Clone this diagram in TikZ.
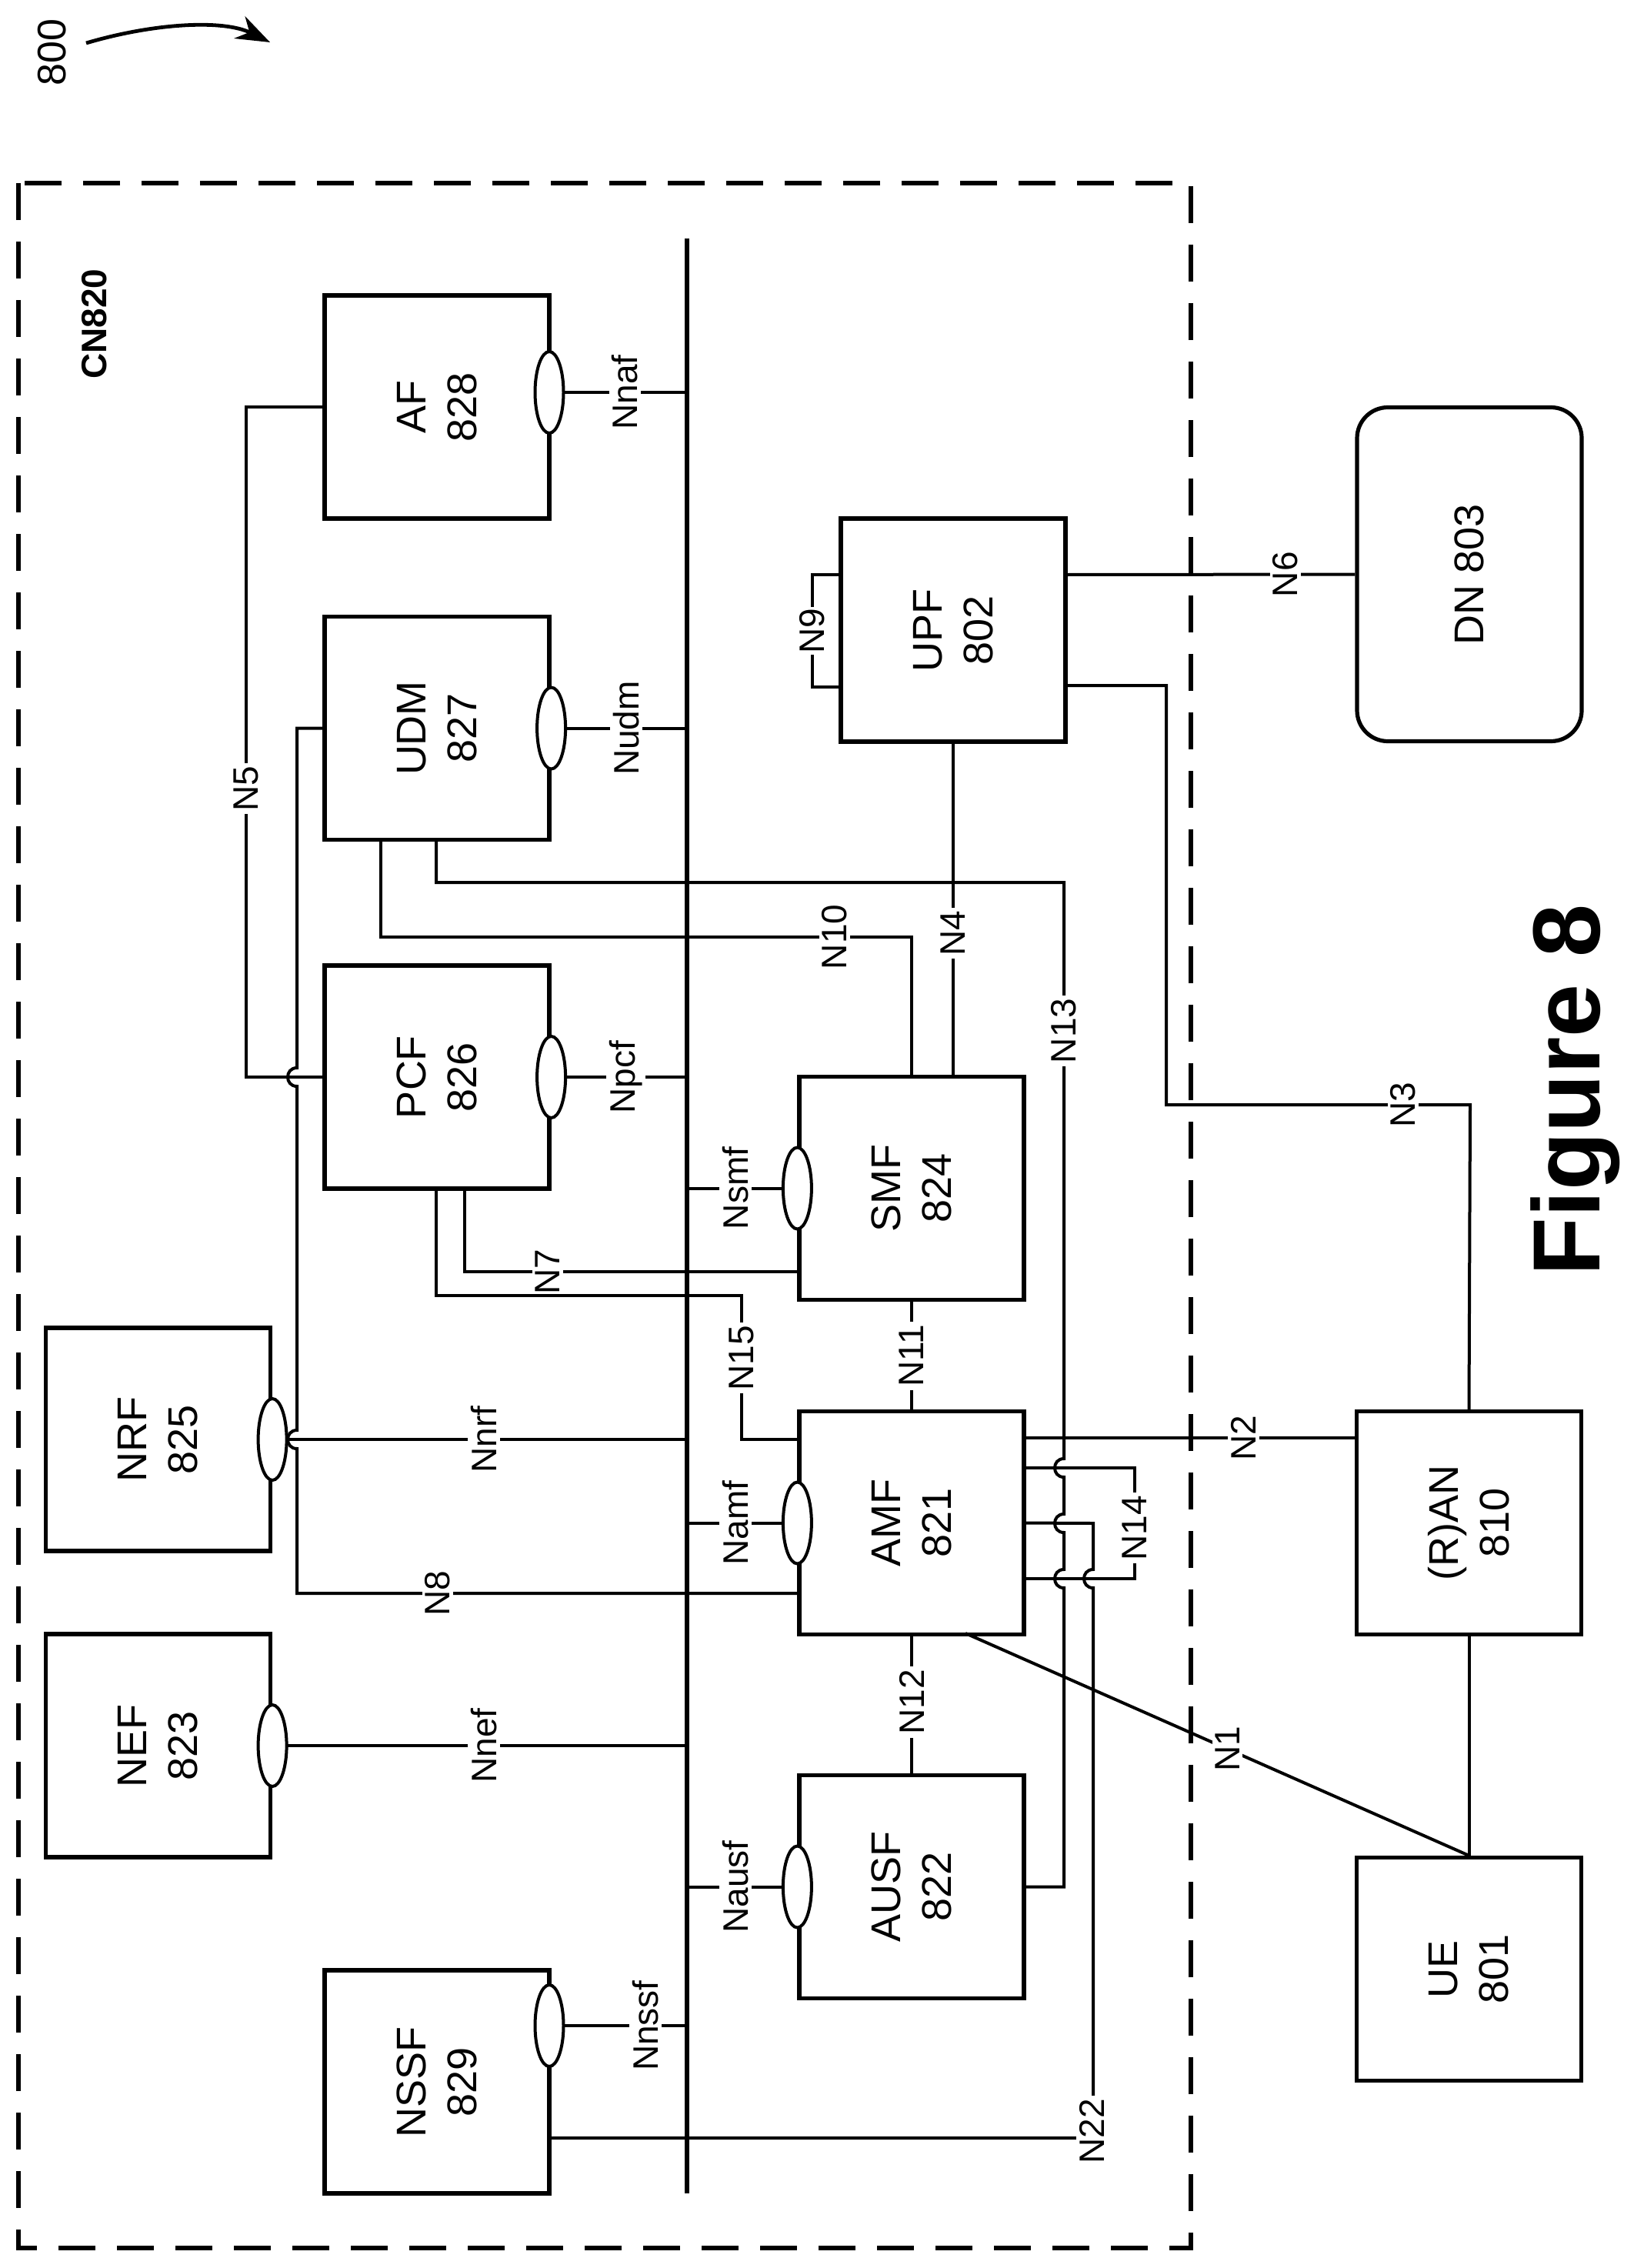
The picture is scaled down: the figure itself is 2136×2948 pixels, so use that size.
\documentclass[tikz,border=0pt]{standalone}
\usepackage{fontspec}
\setmainfont{Liberation Sans}
\usetikzlibrary{shapes.geometric,arrows.meta}
\newcommand\hp[2]{-- (#1,#2-12) .. controls (#1-16,#2-12) and (#1-16,#2+12) .. (#1,#2+12)}
\begin{document}
\begin{tikzpicture}[x=0.5pt,y=-0.5pt,
  box/.style={draw,line width=2.6pt,minimum width=146pt,minimum height=145pt,inner sep=0},
  btxt/.style={rotate=90,align=center,font=\fontsize{27}{33}\selectfont},
  ov/.style={draw,ellipse,line width=2pt,fill=white,minimum width=18.5pt,minimum height=53pt,inner sep=0},
  cn/.style={line width=2pt},
  lbl/.style={rotate=90,fill=white,inner sep=2pt,font=\fontsize{23}{23}\selectfont}]
\useasboundingbox (0,0) rectangle (2136,2948);
% title
\node[rotate=90,font=\fontsize{26}{26}\selectfont] (t800) at (68,68) {800};
\coordinate (a1) at (112,56); \coordinate (a2) at (351,55);
\draw[line width=2.4pt,-{Stealth[length=22pt,width=16pt]}] (a1) .. controls (200,30) and (290,25) .. (a2);
\draw[line width=3pt,dash pattern=on 24pt off 14pt] (24,238) rectangle (1548,2922);
\node[rotate=90,font=\bfseries\fontsize{23}{23}\selectfont] (cn) at (123,421) {CN820};
\node[rotate=90,font=\bfseries\fontsize{62}{62}\selectfont] (fig) at (2048,1417) {Figure 8};
% bus
\coordinate (bt) at (893,310); \coordinate (bb) at (893,2851);
\draw[line width=3pt] (bt) -- (bb);
% boxes
\node[box] (AF) at (568,529) {}; \node[btxt] at (AF) {AF\\828};
\node[box] (UDM) at (568,946.5) {}; \node[btxt] at (UDM) {UDM\\827};
\node[box] (PCF) at (568,1400) {}; \node[btxt] at (PCF) {PCF\\826};
\node[box] (NRF) at (205.5,1871) {}; \node[btxt] at (NRF) {NRF\\825};
\node[box] (NEF) at (205.5,2269) {}; \node[btxt] at (NEF) {NEF\\823};
\node[box] (NSSF) at (568,2706) {}; \node[btxt] at (NSSF) {NSSF\\829};
\node[box] (UPF) at (1239,819) {}; \node[btxt] at (UPF) {UPF\\802};
\node[box] (SMF) at (1185,1544.5) {}; \node[btxt] at (SMF) {SMF\\824};
\node[box] (AMF) at (1185,1979.5) {}; \node[btxt] at (AMF) {AMF\\821};
\node[box] (AUSF) at (1185,2452.5) {}; \node[btxt] at (AUSF) {AUSF\\822};
\node[box] (RAN) at (1909.5,1979.5) {}; \node[btxt] at (RAN) {(R)AN\\810};
\node[box] (UE) at (1909.5,2559.5) {}; \node[btxt] at (UE) {UE\\801};
\node[box,rounded corners=20pt,minimum height=217pt] (DN) at (1910,746.5) {};
\node[btxt] at (DN) {DN 803};
% service interfaces
\draw[cn] (714,510) -- (893,510) node[lbl,pos=0.55] {Nnaf};
\node[ov] (oAF) at (714,510) {};
\draw[cn] (UDM.east) -- (893,946.5) node[lbl,pos=0.55] {Nudm};
\node[ov] (oUDM) at (UDM.east) {};
\draw[cn] (PCF.east) -- (893,1400) node[lbl,pos=0.55] {Npcf};
\node[ov] (oPCF) at (PCF.east) {};
\draw[cn] (893,1544.5) -- (SMF.west) node[lbl,pos=0.44] {Nsmf};
\node[ov] (oSMF) at (SMF.west) {};
\draw[cn] (893,1979.5) -- (AMF.west) node[lbl,pos=0.44] {Namf};
\node[ov] (oAMF) at (AMF.west) {};
\draw[cn] (893,2452.5) -- (AUSF.west) node[lbl,pos=0.44] {Nausf};
\node[ov] (oAUSF) at (AUSF.west) {};
\draw[cn] (NRF.east) -- (893,1871) node[lbl,pos=0.51] {Nnrf};
\draw[cn] (NEF.east) -- (893,2269) node[lbl,pos=0.51] {Nnef};
\draw[cn] (714,2633) -- (893,2633) node[lbl,pos=0.7] {Nnssf};
\node[ov] (oNSSF) at (714,2633) {};
% reference points
\draw[cn] (AF.west |- 0,529) -- (320,529) -- (320,1400) -- (PCF.west);
\node[lbl] at (320,1025) {N5};
\draw[cn] (UDM.west) -- (386,946.5) \hp{386}{1400} \hp{386}{1871} -- (386,2071) -- (AMF.west |- 0,2071);
\node[lbl] at (569,2071) {N8};
\node[ov] (oNRF) at (NRF.east) {};
\node[ov] (oNEF) at (NEF.east) {};
\draw[cn] (495,1092) -- (495,1218) -- (1185,1218) -- (SMF.north -| 1185,0);
\node[lbl] at (1085,1218) {N10};
\draw[cn] (567,1092) -- (567,1147) -- (1383,1147) \hp{1383}{1908} \hp{1383}{1980} \hp{1383}{2052} -- (1383,2452.5) -- (AUSF.east);
\node[lbl] at (1383,1340) {N13};
\draw[cn] (UPF.south) -- (1239,1401);
\node[lbl] at (1239,1213) {N4};
\draw[cn] (604,1545) -- (604,1653) -- (1040,1653);
\node[lbl] at (712,1653) {N7};
\draw[cn] (567,1545) -- (567,1684) -- (964,1684) -- (964,1871) -- (1040,1871);
\node[lbl] at (964,1765) {N15};
\draw[cn] (SMF.south) -- (AMF.north) node[lbl,midway] {N11};
\draw[cn] (AMF.south) -- (AUSF.north) node[lbl,pos=0.48] {N12};
\draw[cn] (1330,1869) -- (1764,1869) node[lbl,pos=0.66] {N2};
\draw[cn] (1330,1908) -- (1475,1908) -- (1475,2052) -- (1330,2052);
\node[lbl] at (1475,1986) {N14};
\draw[cn] (NSSF.east |- 0,2779) -- (1421,2779) -- (1421,2064) .. controls (1405,2064) and (1405,2040) .. (1421,2040) -- (1421,1980) -- (AMF.east);
\node[lbl] at (1419,2770) {N22};
\draw[cn] (1255,2123) -- (UE.north) node[lbl,pos=0.52] {N1};
\draw[cn] (RAN.south) -- (UE.north);
\draw[cn] (1385,891) -- (1516,891) -- (1516,1436) -- (1911,1436) -- (RAN.north);
\node[lbl] at (1824,1436) {N3};
\draw[cn] (1385,747) -- (DN.west) node[lbl,pos=0.76] {N6};
\draw[cn] (1093,747) -- (1056,747) -- (1056,893) -- (1093,893);
\node[lbl,inner sep=1pt] at (1056,820) {N9};
\end{tikzpicture}
\end{document}
